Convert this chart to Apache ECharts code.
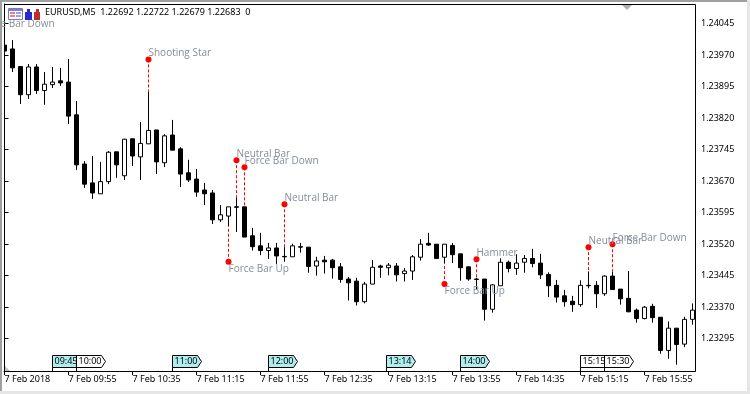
<!DOCTYPE html>
<html>
<head>
<meta charset="utf-8">
<style>html,body{margin:0;padding:0;background:#fff}#chart{width:750px;height:394px}</style>
<script src="https://cdn.jsdelivr.net/npm/echarts@6/dist/echarts.min.js"></script>
</head>
<body>
<div id="chart"></div>
<script>
// EURUSD M5, one value per bar, bar 0 = 09:15
var opens = [1.23994,1.23985,1.23943,1.23876,1.23942,1.23886,1.23900,1.23909,1.23906,1.23828,
  1.23711,1.23666,1.23640,1.23669,1.23740,1.23683,1.23771,1.23728,1.23759,1.23792,
  1.23714,1.23780,1.23747,1.23690,1.23675,1.23649,1.23642,1.23578,1.23587,1.23609,
  1.23609,1.23540,1.23516,1.23505,1.23511,1.23491,1.23490,1.23514,1.23513,1.23468,
  1.23482,1.23482,1.23466,1.23437,1.23432,1.23383,1.23425,1.23468,1.23464,1.23468,
  1.23450,1.23456,1.23489,1.23522,1.23520,1.23489,1.23517,1.23497,1.23466,1.23437,
  1.23437,1.23365,1.23421,1.23477,1.23462,1.23477,1.23486,1.23475,1.23448,1.23422,
  1.23397,1.23384,1.23376,1.23422,1.23422,1.23402,1.23444,1.23413,1.23391,1.23363,
  1.23343,1.23372,1.23346,1.23267,1.23320,1.23282,1.23341];
var closes = [1.23980,1.23940,1.23876,1.23942,1.23886,1.23901,1.23906,1.23904,1.23825,1.23709,
  1.23663,1.23642,1.23669,1.23739,1.23709,1.23770,1.23730,1.23760,1.23791,1.23716,
  1.23778,1.23744,1.23687,1.23673,1.23644,1.23640,1.23578,1.23590,1.23609,1.23608,
  1.23537,1.23514,1.23505,1.23511,1.23492,1.23490,1.23516,1.23513,1.23467,1.23480,
  1.23478,1.23464,1.23436,1.23428,1.23383,1.23425,1.23465,1.23465,1.23470,1.23447,
  1.23456,1.23490,1.23520,1.23518,1.23486,1.23520,1.23495,1.23464,1.23437,1.23436,
  1.23365,1.23423,1.23477,1.23462,1.23475,1.23486,1.23474,1.23447,1.23421,1.23394,
  1.23383,1.23376,1.23422,1.23421,1.23402,1.23444,1.23412,1.23390,1.23359,1.23343,
  1.23370,1.23345,1.23267,1.23320,1.23281,1.23341,1.23363];
var lows = [1.23980,1.23930,1.23854,1.23866,1.23878,1.23852,1.23892,1.23897,1.23806,1.23697,
  1.23654,1.23628,1.23640,1.23663,1.23678,1.23673,1.23706,1.23673,1.23759,1.23687,
  1.23704,1.23744,1.23656,1.23668,1.23633,1.23613,1.23568,1.23573,1.23562,1.23549,
  1.23537,1.23505,1.23494,1.23485,1.23473,1.23478,1.23490,1.23500,1.23452,1.23445,
  1.23450,1.23438,1.23428,1.23386,1.23374,1.23379,1.23425,1.23440,1.23446,1.23431,
  1.23431,1.23435,1.23481,1.23516,1.23486,1.23475,1.23475,1.23433,1.23433,1.23411,
  1.23338,1.23357,1.23421,1.23453,1.23447,1.23452,1.23465,1.23437,1.23394,1.23381,
  1.23371,1.23359,1.23371,1.23415,1.23368,1.23397,1.23412,1.23376,1.23358,1.23333,
  1.23341,1.23333,1.23259,1.23247,1.23233,1.23275,1.23328];
var highs = [1.23994,1.24006,1.23944,1.23949,1.23949,1.23930,1.23942,1.23940,1.23961,1.23861,
  1.23718,1.23730,1.23716,1.23742,1.23740,1.23771,1.23771,1.23811,1.23883,1.23792,
  1.23782,1.23816,1.23751,1.23721,1.23699,1.23666,1.23649,1.23613,1.23609,1.23630,
  1.23609,1.23559,1.23547,1.23523,1.23523,1.23513,1.23521,1.23523,1.23513,1.23490,
  1.23492,1.23485,1.23475,1.23442,1.23440,1.23430,1.23482,1.23471,1.23475,1.23475,
  1.23463,1.23494,1.23532,1.23547,1.23520,1.23520,1.23523,1.23497,1.23467,1.23440,
  1.23437,1.23425,1.23486,1.23481,1.23496,1.23494,1.23509,1.23497,1.23453,1.23435,
  1.23411,1.23397,1.23434,1.23455,1.23432,1.23446,1.23455,1.23413,1.23456,1.23367,
  1.23373,1.23378,1.23346,1.23336,1.23320,1.23347,1.23379];

var priceTicks = [1.24045,1.23970,1.23895,1.23820,1.23745,1.23670,1.23595,1.23520,1.23445,1.23370,1.23295];
var timeTickBars = [0,8,16,24,32,40,48,56,64,72,80];
var timeTickLabels = ['7 Feb 2018','7 Feb 09:55','7 Feb 10:35','7 Feb 11:15','7 Feb 11:55','7 Feb 12:35',
  '7 Feb 13:15','7 Feb 13:55','7 Feb 14:35','7 Feb 15:15','7 Feb 15:55'];

// pattern labels
var signalNames = ['Force Bar Down','Shooting Star','Force Bar Up','Neutral Bar','Force Bar Down','Neutral Bar','Force Bar Up','Hammer','Neutral Bar','Force Bar Down'];
var signalBars = [-3,18,28,29,30,35,55,59,73,76];
var signalPrices = [1.24029,1.23960,1.23478,1.23720,1.23703,1.23615,1.23425,1.23484,1.23513,1.23520];

// time flags on the bottom of the chart
var flagBars = [6,9,21,33,47.8,57,72,75];
var flagTexts = ['09:45','10:00','11:00','12:00','13:14','14:00','15:15','15:30'];
var flagFills = ['#afeeee','#ffffff','#afeeee','#afeeee','#afeeee','#afeeee','#ffffff','#ffffff'];

var FONT = '"Noto Sans", sans-serif';
var LABEL_FONT = '"Open Sans", sans-serif';
var priceMin = 1.23218, priceMax = 1.24092;

var candles = [], signals = [], dashes = [], flags = [];
for (var i = 0; i < opens.length; i++) {
    candles.push([i, opens[i], closes[i], lows[i], highs[i]]);
}
for (var i = 0; i < signalBars.length; i++) {
    var bar = signalBars[i], below = bar >= 0 && signalPrices[i] < lows[bar];
    signals.push({
        value: [bar, signalPrices[i]],
        label: {formatter: signalNames[i], offset: [-3, below ? 7 : -6]}
    });
    if (bar >= 0) {
        dashes.push([{coord: [bar, signalPrices[i]]}, {coord: [bar, below ? lows[bar] : highs[bar]]}]);
    }
}
for (var i = 0; i < flagBars.length; i++) {
    flags.push([flagBars[i], flagTexts[i], flagFills[i]]);
}

function renderFlag(params, api) {
    var p = api.coord([api.value(0), priceMin]);
    var x = Math.round(p[0] - 0.5) + 0.5, y = Math.round(p[1] - 0.5) + 0.5;
    var text = flagTexts[params.dataIndex], fill = flagFills[params.dataIndex];
    return {
        type: 'group',
        children: [
            {
                type: 'polygon',
                shape: {points: [[x, y - 16], [x + 25, y - 16], [x + 29, y - 10], [x + 25, y - 4], [x, y - 4]]},
                style: {fill: fill, stroke: '#000', lineWidth: 1}
            },
            {
                type: 'line',
                shape: {x1: x, y1: y - 4, x2: x, y2: y},
                style: {stroke: '#000', lineWidth: 1}
            },
            {
                type: 'text',
                style: {text: text, x: x + 2, y: y - 10, verticalAlign: 'middle', fill: '#000', font: '9px ' + FONT}
            }
        ]
    };
}

var myChart = echarts.init(document.getElementById('chart'));
var option = {
    animation: false,
    backgroundColor: '#ffffff',
    title: {
        text: 'EURUSD,M5  1.22692 1.22722 1.22679 1.22683  0',
        left: 45,
        top: 8,
        padding: 0,
        textStyle: {color: '#000', fontFamily: FONT, fontSize: 9, fontWeight: 'normal'}
    },
    grid: {left: 4, top: 4, width: 691, height: 367},
    xAxis: {
        type: 'value',
        min: -0.0625,
        max: 86.3125,
        splitLine: {show: false},
        axisLine: {show: true, lineStyle: {color: '#000'}},
        axisTick: {show: true, length: 4, lineStyle: {color: '#000'}, customValues: timeTickBars},
        axisLabel: {
            color: '#000',
            fontFamily: FONT,
            fontSize: 9,
            margin: 4,
            align: 'left',
            customValues: timeTickBars,
            formatter: function (v) {
                return timeTickLabels[timeTickBars.indexOf(v)];
            }
        }
    },
    yAxis: {
        type: 'value',
        position: 'right',
        min: priceMin,
        max: priceMax,
        splitLine: {show: false},
        axisLine: {show: true, lineStyle: {color: '#000'}},
        axisTick: {show: true, length: 4, lineStyle: {color: '#000'}, customValues: priceTicks},
        axisLabel: {
            color: '#000',
            fontFamily: FONT,
            fontSize: 9,
            margin: 6,
            customValues: priceTicks,
            formatter: function (v) {
                return v.toFixed(5);
            }
        }
    },
    series: [
        {
            type: 'candlestick',
            barWidth: 4,
            data: candles,
            encode: {x: 0, y: [1, 2, 3, 4]},
            itemStyle: {
                color: '#ffffff',
                color0: '#000000',
                borderColor: '#000000',
                borderColor0: '#000000',
                borderColorDoji: '#000000',
                borderWidth: 1
            }
        },
        {
            type: 'scatter',
            clip: false,
            symbolSize: 6,
            z: 5,
            data: signals,
            itemStyle: {color: '#ff0000', opacity: 1},
            label: {
                show: true,
                position: 'right',
                distance: 0,
                color: '#848e98',
                fontFamily: LABEL_FONT,
                fontSize: 10
            },
            markLine: {
                silent: true,
                symbol: 'none',
                label: {show: false},
                lineStyle: {color: '#ff0000', type: [3, 2], width: 1},
                data: dashes
            }
        },
        {
            type: 'custom',
            clip: false,
            z: 6,
            data: flags,
            encode: {x: 0},
            renderItem: renderFlag
        }
    ],
    graphic: [
        {type: 'rect', silent: true, z: -1, shape: {x: 0, y: 0, width: 750, height: 2}, style: {fill: '#a0a0a0'}},
        {type: 'rect', silent: true, z: -1, shape: {x: 0, y: 0, width: 2, height: 394}, style: {fill: '#a0a0a0'}},
        {type: 'rect', silent: true, z: -1, shape: {x: 747, y: 0, width: 3, height: 394}, style: {fill: '#e6e6e6'}},
        {type: 'rect', silent: true, z: -1, shape: {x: 0, y: 391, width: 750, height: 3}, style: {fill: '#e6e6e6'}},
        // first bar is cut by the chart frame
        {type: 'rect', silent: true, z: 4, shape: {x: 2, y: 4, width: 2, height: 367}, style: {fill: '#ffffff'}},
        {type: 'rect', silent: true, z: 4, shape: {x: 4.5, y: 4.5, width: 691, height: 367}, style: {fill: 'none', stroke: '#000', lineWidth: 1}},
        // shift marks
        {type: 'polygon', silent: true, shape: {points: [[622, 5], [632, 5], [627, 10]]}, style: {fill: '#b0b0b0'}},
        {type: 'polygon', silent: true, shape: {points: [[5, 366], [5, 371], [10, 371]]}, style: {fill: '#c0c0c0'}},
        // toolbar icons
        {type: 'rect', silent: true, z: 20, shape: {x: 8.5, y: 8.5, width: 14, height: 11}, style: {fill: '#ffffff', stroke: '#7878c8', lineWidth: 1}},
        {type: 'rect', silent: true, z: 20, shape: {x: 9, y: 9, width: 13, height: 2}, style: {fill: '#8080d0'}},
        {type: 'rect', silent: true, z: 20, shape: {x: 10, y: 12, width: 5, height: 2}, style: {fill: '#f08080'}},
        {type: 'rect', silent: true, z: 20, shape: {x: 10, y: 15, width: 5, height: 2}, style: {fill: '#f08080'}},
        {type: 'rect', silent: true, z: 20, shape: {x: 16, y: 12, width: 5, height: 2}, style: {fill: '#a0a0e8'}},
        {type: 'rect', silent: true, z: 20, shape: {x: 16, y: 15, width: 5, height: 2}, style: {fill: '#a0a0e8'}},
        {type: 'rect', silent: true, z: 20, shape: {x: 25, y: 12, width: 7, height: 8}, style: {fill: '#2828d0'}},
        {type: 'rect', silent: true, z: 20, shape: {x: 27, y: 9, width: 3, height: 3}, style: {fill: '#2828d0'}},
        {type: 'rect', silent: true, z: 20, shape: {x: 34, y: 12, width: 6, height: 8}, style: {fill: '#b83030'}},
        {type: 'rect', silent: true, z: 20, shape: {x: 36, y: 9, width: 3, height: 3}, style: {fill: '#b83030'}}
    ]
};
myChart.setOption(option);
</script>
</body>
</html>
